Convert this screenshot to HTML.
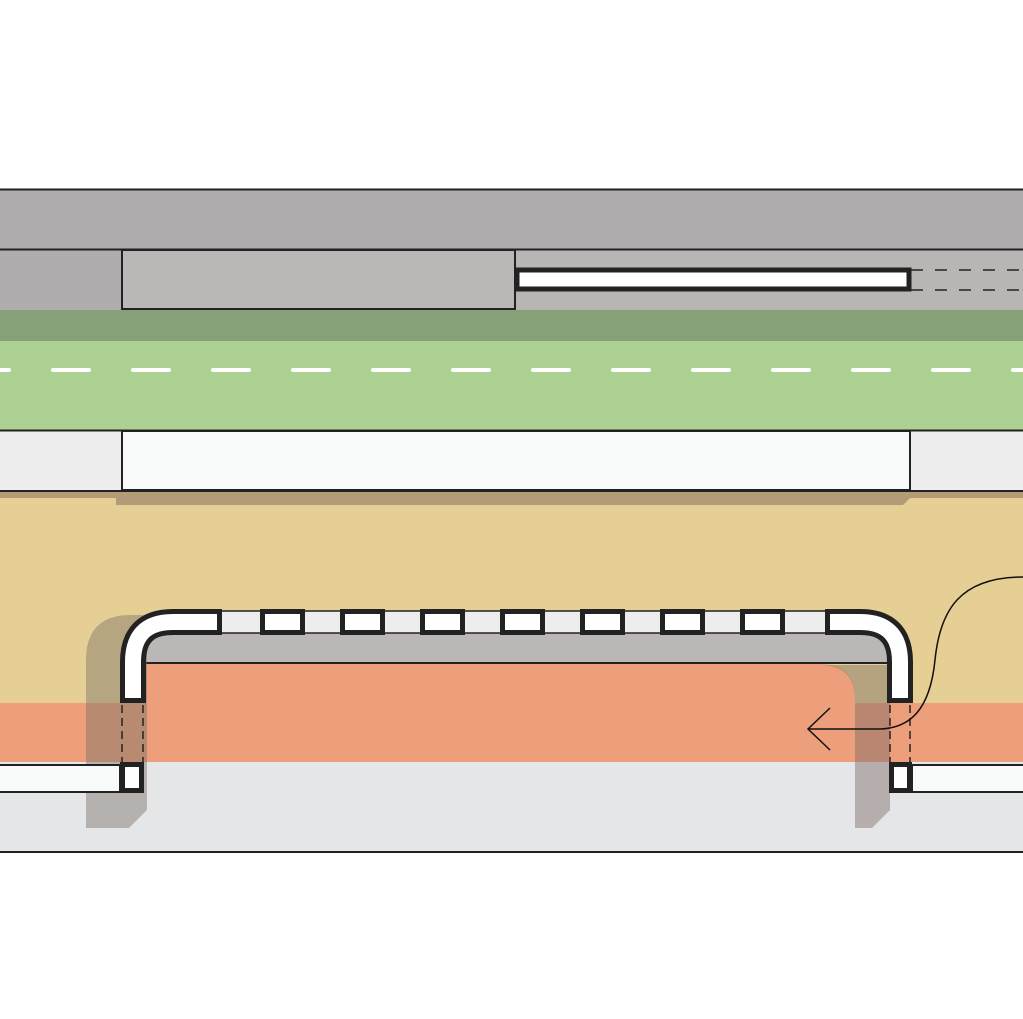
<!DOCTYPE html>
<html><head><meta charset="utf-8"><style>html,body{margin:0;padding:0;background:#fff}svg{display:block}</style></head>
<body>
<svg width="1023" height="1019" viewBox="0 0 1023 1019" xmlns="http://www.w3.org/2000/svg">
<rect width="1023" height="1019" fill="#fff"/>
<rect x="0" y="189" width="1023" height="61" fill="#afadae"/>
<line x1="0" y1="189.5" x2="1023" y2="189.5" stroke="#222" stroke-width="2"/>
<rect x="0" y="250" width="1023" height="60" fill="#b8b5b4"/>
<rect x="0" y="250" width="122" height="60" fill="#afadae"/>
<line x1="0" y1="249.5" x2="1023" y2="249.5" stroke="#222" stroke-width="2"/>
<rect x="122" y="250" width="393" height="59" fill="#bab7b6" stroke="#222" stroke-width="2"/>
<line x1="911" y1="270" x2="1023" y2="270" stroke="#222" stroke-width="1.5" stroke-dasharray="12,12"/>
<line x1="911" y1="290" x2="1023" y2="290" stroke="#222" stroke-width="1.5" stroke-dasharray="12,12"/>
<rect x="517" y="270" width="392" height="19" fill="#fff" stroke="#222" stroke-width="5"/>
<rect x="0" y="310" width="1023" height="31" fill="#88a078"/>
<rect x="0" y="341" width="1023" height="89" fill="#add193"/>
<line x1="-27" y1="370" x2="1023" y2="370" stroke="#fff" stroke-width="4" stroke-linecap="round" stroke-dasharray="36,44"/>
<rect x="0" y="431" width="1023" height="60" fill="#ededed"/>
<line x1="0" y1="430.5" x2="1023" y2="430.5" stroke="#222" stroke-width="2"/>
<rect x="122" y="431" width="788" height="59" fill="#f9fafa" stroke="#222" stroke-width="2"/>
<rect x="0" y="491" width="1023" height="212" fill="#e6cf94"/>
<polygon points="116,491 1023,491 1023,498 910,498 903,505 116,505" fill="#b29b76"/>
<rect x="0" y="491" width="1023" height="7" fill="#b29b76"/>
<rect x="0" y="490" width="1023" height="2" fill="#222"/>
<rect x="0" y="703" width="1023" height="59" fill="#ed9f7b"/>
<rect x="0" y="762" width="1023" height="90" fill="#e5e6e8"/>
<line x1="0" y1="852" x2="1023" y2="852" stroke="#222" stroke-width="2"/>
<!-- orange region under gray -->
<path d="M140,664 L820,664 Q855,664 855,699 L855,704 L140,704 Z" fill="#ed9f7b"/>
<rect x="145" y="632" width="750" height="32" fill="#bab7b6"/>
<line x1="145" y1="663" x2="893" y2="663" stroke="#222" stroke-width="2"/>
<!-- shadows -->
<path d="M86,828 L86,660 Q86,615 131,615 L147,615 L147,810 L129,828 Z" fill="#7a7268" fill-opacity="0.45"/>
<path d="M855,828 L855,700 Q855,665 820,665 L890,665 L890,810 L872,828 Z" fill="#7a6a66" fill-opacity="0.45"/>
<rect x="-2" y="765" width="122" height="27" fill="#f9fafa" stroke="#222" stroke-width="2"/>
<rect x="912" y="765" width="113" height="27" fill="#f9fafa" stroke="#222" stroke-width="2"/>
<g stroke="#222" stroke-width="1.5" stroke-dasharray="8,5">
<line x1="122" y1="705" x2="122" y2="762"/><line x1="143" y1="705" x2="143" y2="762"/>
<line x1="890" y1="705" x2="890" y2="762"/><line x1="910" y1="705" x2="910" y2="762"/>
</g>
<rect x="170" y="611" width="690" height="22" fill="#ededed" stroke="#222" stroke-width="1.5"/>
<path d="M133,703 L133,662 Q133,622 173,622 L222,622" fill="none" stroke="#222" stroke-width="26"/>
<path d="M133,698 L133,662 Q133,622 173,622 L217,622" fill="none" stroke="#fff" stroke-width="16"/>
<path d="M825,622 L860,622 Q900,622 900,662 L900,703" fill="none" stroke="#222" stroke-width="26"/>
<path d="M830,622 L860,622 Q900,622 900,662 L900,698" fill="none" stroke="#fff" stroke-width="16"/>
<g fill="#fff" stroke="#222" stroke-width="5">
<rect x="262.5" y="611.5" width="40" height="21"/>
<rect x="342.5" y="611.5" width="40" height="21"/>
<rect x="422.5" y="611.5" width="40" height="21"/>
<rect x="502.5" y="611.5" width="40" height="21"/>
<rect x="582.5" y="611.5" width="40" height="21"/>
<rect x="662.5" y="611.5" width="40" height="21"/>
<rect x="742.5" y="611.5" width="40" height="21"/>
<rect x="122.5" y="764.5" width="19" height="26"/>
<rect x="891.5" y="764.5" width="18" height="26"/>
</g>
<path d="M1023,577 C960,577 940,610 935,660 C930,710 910,728 880,729 L808,729" fill="none" stroke="#111" stroke-width="1.5"/>
<path d="M830,708 L808,729 L830,750" fill="none" stroke="#111" stroke-width="1.5"/>
</svg>
</body></html>
